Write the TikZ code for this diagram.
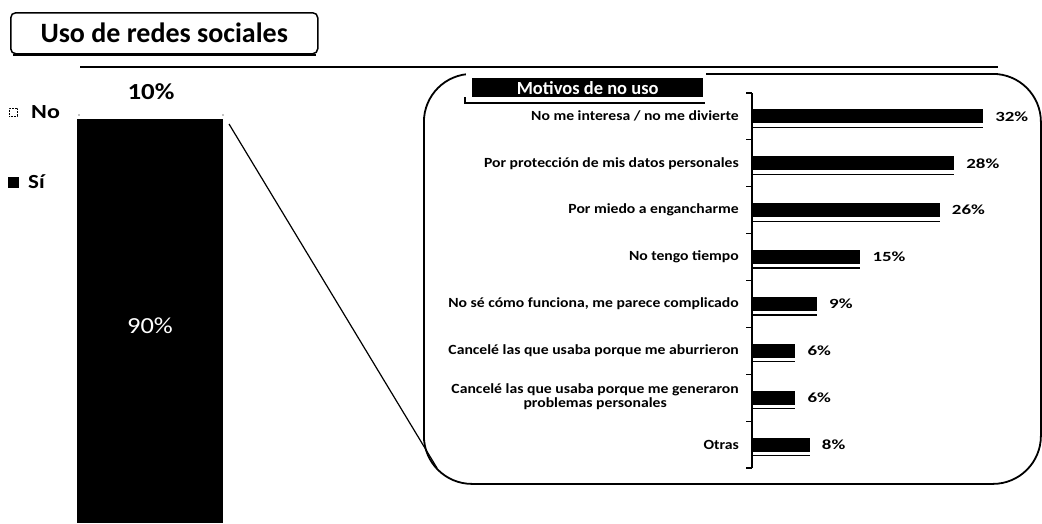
\documentclass[tikz,border=0pt]{standalone}
\usepackage{fontspec}
\setmainfont{Carlito}
\newcommand{\fsz}[1]{\fontsize{#1}{#1}\selectfont}
\newcommand{\xs}[2]{\scalebox{#1}[1]{#2}}
\begin{document}
\begin{tikzpicture}[x=1pt,y=-1pt,
  cat/.style={anchor=east, font=\bfseries\fsz{14}, inner sep=0},
  pct/.style={anchor=west, font=\bfseries\fsz{14}, inner sep=0},
  legtxt/.style={anchor=west, font=\bfseries\fsz{20}, inner sep=0},
  conn/.style={line width=1.2}
]
\useasboundingbox (0,0) rectangle (1042,523);

% title box
\node[draw, rounded corners=5, line width=1.5, minimum width=307, minimum height=41,
      anchor=north west, font=\bfseries\fsz{28}, inner sep=0] (title) at (10,12) {Uso de redes sociales};
\draw[line width=2] ([xshift=3,yshift=-0.6]title.south west) -- ([xshift=-3,yshift=-0.6]title.south east);

% left stacked bar
\node[fill=black, minimum width=146, minimum height=404, inner sep=0, anchor=north west] (si) at (77,119) {};
\node[text=white, font=\fsz{23}, inner sep=0] (p90) at (150,326) {\xs{1.15}{90\%}};
\node[font=\bfseries\fsz{23}, inner sep=0] (p10) at (151,92) {\xs{1.17}{10\%}};
\fill (79,115) circle (0.7) (223,115) circle (0.7);

% legend
\node[draw, densely dotted, line width=0.6, minimum size=8, inner sep=0] (nomark) at (13,112) {};
\node[legtxt] (notxt) at (31,112) {\xs{1.2}{No}};
\node[fill=black, minimum size=11, inner sep=0] (simark) at (13,182) {};
\node[legtxt] (sitxt) at (28,182) {\xs{1.15}{Sí}};

% connectors
\coordinate (tl) at (80,67);
\coordinate (tr) at (998,67);
\draw[line width=2] (tl) -- (tr);
\coordinate (dstart) at (229,124);
\coordinate (dend) at (437,468);
\draw[conn] (dstart) -- (dend);

% callout box
\node[draw, line width=1.8, rounded corners=48, minimum width=617, minimum height=410,
      anchor=north west, inner sep=0] (box) at (423,73) {};
\fill[white] (466,69) rectangle (706,101);
\node[fill=black, text=white, minimum width=231, minimum height=19, inner sep=0,
      anchor=north west, font=\bfseries\fsz{18.5}] (hdr) at (472,78) {Motivos de no uso};
\draw[line width=1.2] (465,97) |- (705,103);

% axis
\draw[line width=1.2] (752,93) -- (752,468);
\foreach \k in {0,...,8} {
  \draw[line width=1.2] (746,93+\k*46.875) -- (752,93+\k*46.875);
}

% bars
\renewcommand{\arraystretch}{0.95}
\foreach \i/\lab/\val in {
  1/{No me interesa / no me divierte}/32,
  2/{Por protección de mis datos personales}/28,
  3/{Por miedo a engancharme}/26,
  4/{No tengo tiempo}/15,
  5/{No sé cómo funciona, me parece complicado}/9,
  6/{Cancelé las que usaba porque me aburrieron}/6,
  7/{\begin{tabular}{@{}c@{}}Cancelé las que usaba porque me generaron\\problemas personales\end{tabular}}/6,
  8/{Otras}/8} {
  \pgfmathsetmacro{\yc}{116.4+(\i-1)*46.875}
  \pgfmathsetmacro{\xe}{752+\val*7.22}
  \fill (752,\yc-7) rectangle (\xe,\yc+7);
  \draw[line width=1.3] (752,\yc+11) -- (\xe,\yc+11);
  \node[cat] (lab\i) at (739,\yc) {\xs{1.12}{\lab}};
  \node[pct] (pct\i) at (\xe+12,\yc) {\xs{1.35}{\val\%}};
}
\end{tikzpicture}
\end{document}
